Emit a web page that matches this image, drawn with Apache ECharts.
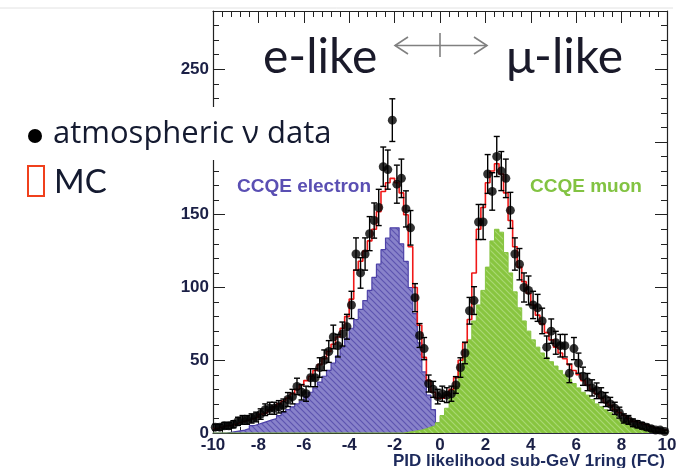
<!DOCTYPE html>
<html>
<head>
<meta charset="utf-8">
<script src="https://cdn.jsdelivr.net/npm/echarts@6/dist/echarts.min.js"></script>
<style>
html,body{margin:0;padding:0;background:#fff;}
#chart{width:692px;height:468px;}
</style>
</head>
<body>
<div id="chart"></div>
<script>
// ---- data (100 bins of width 0.2 from -10 to 10) ----
const xMin = -10, xMax = 10, binWidth = 0.2;
const xTicks = [-10, -8, -6, -4, -2, 0, 2, 4, 6, 8, 10];
const yTicks = [0, 50, 100, 150, 200, 250];

const dataCounts = [
  4,4,5,5,6,8,9,9,10,11, 13,16,17,17,18,19,23,25,32,28,
  27,38,38,45,50,56,66,60,68,73, 88,123,110,123,137,146,155,183,181,215,
  171,175,154,141,93,67,58,34,30,25,
  27,26,27,33,45,55,84,91,145,145, 178,166,190,180,175,153,123,116,100,98,
  88,86,77,59,70,62,60,60,41,58, 48,39,35,31,29,26,23,20,17,14,
  10,9,7,6,5,4,3,2,2,1
];
const mcTotal = [
  3,4,5,5,6,7,8,9,10,11, 13,14,16,18,20,22,24,27,30,33,
  36,39,43,47,51,56,61,66,72,80, 92,112,118,125,132,140,152,166,172,175,
  172,165,150,128,100,74,52,36,28,24,
  24,26,30,38,50,62,78,110,140,155, 172,180,185,178,165,146,128,114,104,96,
  88,81,75,69,64,59,55,51,47,43, 40,36,33,30,27,24,21,19,16,14,
  12,10,8,7,6,5,4,3,2,2
];
const ccqeElectron = [
  0,0,0,0.5,1,1.5,2,3,5,6, 7,8,9,10,12,14,16,18,20,22,
  25,28,31,35,39,43,48,53,59,65, 72,78,85,91,98,107,116,126,134,141,
  141,130,118,100,82,62,42,26,16,7,
  2,0,0,0,0,0,0,0,0,0, 0,0,0,0,0,0,0,0,0,0,
  0,0,0,0,0,0,0,0,0,0, 0,0,0,0,0,0,0,0,0,0,
  0,0,0,0,0,0,0,0,0,0
];
const ccqeMuon = [
  0,0,0,0,0,0,0,0,0,0, 0,0,0,0,0,0,0,0,0,0,
  0,0,0,0,0,0,0,0,0,0, 0,0,0,0,0,0,0,0,0,0,
  0,0,0.5,1,1.5,2,3,4,5,7,
  12,17,24,32,42,52,64,77,88,98, 114,132,140,138,124,110,97,86,77,70,
  64,59,55,52,49,46,43,40,37,34, 31,28,26,23,20,18,16,14,12,10,
  8,7,5,4,3,2.5,2,1.5,1,0.5
];

// ---- helpers ----
function stepPoints(vals) {
  const pts = [];
  vals.forEach((v, i) => {
    const x0 = xMin + i * binWidth;
    pts.push([x0, v], [x0 + binWidth, v]);
  });
  return pts;
}
function pointData(vals) {
  return vals.map((v, i) => [xMin + (i + 0.5) * binWidth, v, Math.sqrt(v)]);
}
function hatch(bg, fg, size) {
  const c = document.createElement('canvas');
  c.width = size; c.height = size;
  const g = c.getContext('2d');
  g.fillStyle = bg; g.fillRect(0, 0, size, size);
  g.strokeStyle = fg; g.lineWidth = 1.2;
  g.beginPath();
  g.moveTo(0, 0); g.lineTo(size, size);
  g.moveTo(-size / 2, size / 2); g.lineTo(size / 2, size * 1.5);
  g.moveTo(size / 2, -size / 2); g.lineTo(size * 1.5, size / 2);
  g.stroke();
  return c;
}

const chart = echarts.init(document.getElementById('chart'), null, {renderer: 'canvas'});
const labelFont = {fontFamily: '"Liberation Sans", Arial, sans-serif', fontWeight: 'bold', fontSize: 17, color: '#1b2046'};
const axisLine = {show: true, onZero: false, lineStyle: {color: '#222', width: 1.2}};
const tick = {inside: true, length: 12, lineStyle: {color: '#222'}};
const minor = {show: true, splitNumber: 5, length: 6, lineStyle: {color: '#222'}};

const option = {
  animation: false,
  backgroundColor: '#fff',
  grid: {left: 213, right: 25, top: 11, bottom: 35},
  xAxis: [
    {type: 'value', min: xMin, max: xMax, interval: 2, position: 'bottom',
     axisLine: axisLine, splitLine: {show: false}, axisTick: tick, minorTick: minor,
     axisLabel: Object.assign({margin: 4, formatter: v => xTicks.includes(v) ? String(v) : ''}, labelFont)},
    {type: 'value', min: xMin, max: xMax, interval: 2, position: 'top',
     axisLine: axisLine, splitLine: {show: false}, axisTick: tick, minorTick: minor,
     axisLabel: {show: false}}
  ],
  yAxis: [
    {type: 'value', min: 0, max: 290, interval: 50, position: 'left',
     axisLine: axisLine, splitLine: {show: false}, axisTick: tick, minorTick: minor,
     axisLabel: Object.assign({margin: 4, showMaxLabel: false, formatter: v => yTicks.includes(v) ? String(v) : ''}, labelFont)},
    {type: 'value', min: 0, max: 290, interval: 50, position: 'right',
     axisLine: axisLine, splitLine: {show: false}, axisTick: tick, minorTick: minor,
     axisLabel: {show: false}}
  ],
  series: [
    {name: 'CCQE electron', type: 'line', data: stepPoints(ccqeElectron), symbol: 'none', z: 1,
     lineStyle: {color: '#4d42a8', width: 1.2},
     areaStyle: {color: {image: hatch('#8882ca', '#5d54b0', 6), repeat: 'repeat'}, opacity: 1}},
    {name: 'CCQE muon', type: 'line', data: stepPoints(ccqeMuon), symbol: 'none', z: 2,
     lineStyle: {color: '#86c441', width: 1},
     areaStyle: {color: {image: hatch('#88c53f', '#a9d874', 6), repeat: 'repeat'}, opacity: 1}},
    {name: 'MC', type: 'line', data: stepPoints(mcTotal), symbol: 'none', z: 3,
     lineStyle: {color: '#f01818', width: 1.6}},
    {name: 'errors', type: 'custom', z: 4, data: pointData(dataCounts), encode: {x: 0, y: 1},
     renderItem: function (params, api) {
       const x = api.value(0), y = api.value(1), e = api.value(2);
       const t = api.coord([x, y + e]), b = api.coord([x, Math.max(0, y - e)]);
       const w = 3, st = {stroke: '#000', lineWidth: 1.4};
       return {type: 'group', children: [
         {type: 'line', shape: {x1: t[0], y1: t[1], x2: b[0], y2: b[1]}, style: st},
         {type: 'line', shape: {x1: t[0] - w, y1: t[1], x2: t[0] + w, y2: t[1]}, style: st},
         {type: 'line', shape: {x1: b[0] - w, y1: b[1], x2: b[0] + w, y2: b[1]}, style: st}
       ]};
     }},
    {name: 'atmospheric ν data', type: 'scatter', z: 5, data: pointData(dataCounts).map(p => [p[0], p[1]]),
     symbol: 'circle', symbolSize: 9, itemStyle: {color: '#000'}}
  ],
  graphic: [
    {type: 'line', z: 100, shape: {x1: 0, y1: 8, x2: 673, y2: 8}, style: {stroke: '#e2e2e2', lineWidth: 1}},
    {type: 'rect', z: 100, shape: {x: 0, y: 107, width: 345, height: 53}, style: {fill: '#fff'}},
    {type: 'circle', z: 101, shape: {cx: 35, cy: 136, r: 7}, style: {fill: '#000'}},
    {type: 'text', z: 101, style: {x: 53, y: 134, text: 'atmospheric ν data', font: '31px "Open Sans", Lato, "DejaVu Sans", sans-serif', fill: '#141a30', verticalAlign: 'middle'}},
    {type: 'rect', z: 101, shape: {x: 28, y: 166, width: 16, height: 30}, style: {fill: 'none', stroke: '#f0401c', lineWidth: 2}},
    {type: 'text', z: 101, style: {x: 54, y: 182, text: 'MC', font: '33px Lato, "Open Sans", sans-serif', fill: '#141a30', verticalAlign: 'middle'}},
    {type: 'text', z: 101, style: {x: 263, y: 58, text: 'e-like', font: '48px Lato, "Open Sans", sans-serif', fill: '#1a1a2a', verticalAlign: 'middle'}},
    {type: 'text', z: 101, style: {x: 506, y: 58, text: 'μ-like', font: '48px Lato, "Open Sans", "DejaVu Sans", sans-serif', fill: '#1a1a2a', verticalAlign: 'middle'}},
    {type: 'polyline', z: 101, shape: {points: [[408, 37], [395, 45.5], [408, 54]]}, style: {stroke: '#808080', lineWidth: 1.6, fill: 'none'}},
    {type: 'polyline', z: 101, shape: {points: [[474, 37], [487, 45.5], [474, 54]]}, style: {stroke: '#808080', lineWidth: 1.6, fill: 'none'}},
    {type: 'line', z: 101, shape: {x1: 395, y1: 45.5, x2: 487, y2: 45.5}, style: {stroke: '#808080', lineWidth: 1.6}},
    {type: 'line', z: 101, shape: {x1: 440, y1: 33, x2: 440, y2: 57}, style: {stroke: '#808080', lineWidth: 1.6}},
    {type: 'text', z: 101, style: {x: 237, y: 187, text: 'CCQE electron', font: 'bold 19px "Liberation Sans", Arial, sans-serif', fill: '#5a4fb3', verticalAlign: 'middle'}},
    {type: 'text', z: 101, style: {x: 530, y: 187, text: 'CCQE muon', font: 'bold 19px "Liberation Sans", Arial, sans-serif', fill: '#82c342', verticalAlign: 'middle'}},
    {type: 'text', z: 101, style: {x: 393, y: 461, text: 'PID likelihood sub-GeV 1ring (FC)', font: 'bold 17px "Liberation Sans", Arial, sans-serif', fill: '#1d2a5c', verticalAlign: 'middle'}}
  ]
};
chart.setOption(option);
</script>
</body>
</html>
